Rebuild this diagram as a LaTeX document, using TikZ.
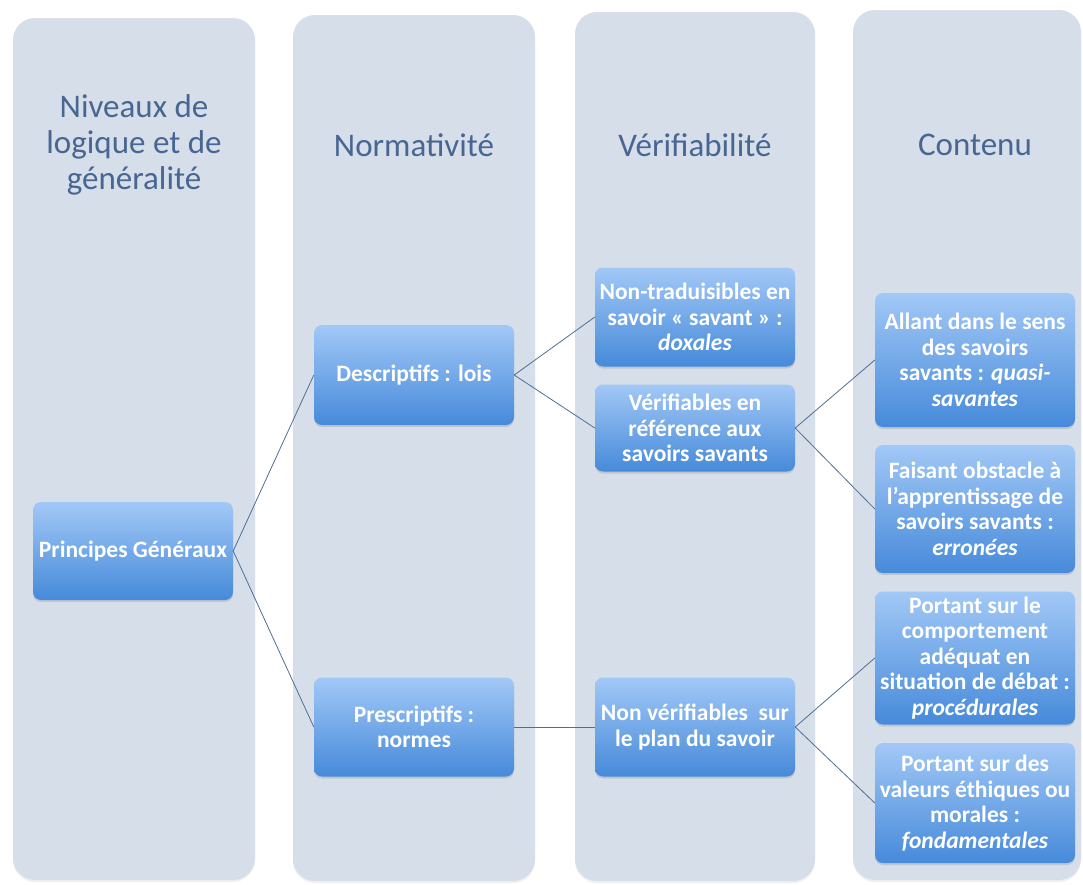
\documentclass[tikz,border=0pt]{standalone}
\usepackage{fontspec}
\setmainfont{Carlito}
\usetikzlibrary{shadows}
\definecolor{panel}{RGB}{214,222,234}
\definecolor{ttl}{RGB}{72,102,146}
\definecolor{btop}{RGB}{162,200,246}
\definecolor{bbot}{RGB}{70,138,218}
\definecolor{conn}{RGB}{80,110,145}
\begin{document}
\begin{tikzpicture}[x=1pt,y=-1pt,
  panelbox/.style={fill=panel, rounded corners=22pt, draw=none,
    drop shadow={opacity=0.12, shadow xshift=0pt, shadow yshift=-2pt}},
  titletext/.style={text=ttl, font=\fontsize{33}{36}\selectfont, align=center},
  item/.style={rectangle, rounded corners=8pt, top color=btop, bottom color=bbot,
    draw=none, text=white, font=\bfseries\fontsize{23.5}{25.5}\selectfont, align=center,
    minimum width=200pt, inner sep=1pt,
    drop shadow={opacity=0.25, shadow xshift=0pt, shadow yshift=-2pt}},
  link/.style={draw=conn, line width=0.8pt}]
\useasboundingbox (0,0) rectangle (1083,884);
% panels
\path[panelbox] (13,18) rectangle (255,880);
\path[panelbox] (293,15) rectangle (535,881);
\path[panelbox] (575,12) rectangle (815,881);
\path[panelbox] (853,10) rectangle (1081,880);
% titles
\node[titletext] (t1) at (134,145) {Niveaux de\\logique et de\\généralité};
\node[titletext] (t2) at (414,145) {Normativité};
\node[titletext] (t3) at (695,145) {Vérifiabilité};
\node[titletext] (t4) at (975,145) {Contenu};
% items
\node[item, minimum height=98pt] (pg) at (133,551) {Principes Généraux};
\node[item, minimum height=100pt] (desc) at (414,375) {Descriptifs : lois};
\node[item, minimum height=99pt] (presc) at (414,727) {Prescriptifs :\\normes};
\node[item, minimum height=99pt] (dox) at (695,317) {Non-traduisibles en\\savoir « savant » :\\\textit{doxales}};
\node[item, minimum height=87pt] (verif) at (695,428) {Vérifiables en\\référence aux\\savoirs savants};
\node[item, minimum height=99pt] (nonv) at (695,727) {Non vérifiables~ sur\\le plan du savoir};
\node[item, minimum height=134pt] (quasi) at (975,360) {Allant dans le sens\\des savoirs\\savants : \textit{quasi-}\\\textit{savantes}};
\node[item, minimum height=128pt] (err) at (975,509) {Faisant obstacle à\\l’apprentissage de\\savoirs savants :\\\textit{erronées}};
\node[item, minimum height=133pt] (proc) at (975,658) {Portant sur le\\comportement\\adéquat en\\situation de débat :\\\textit{procédurales}};
\node[item, minimum height=120pt] (fond) at (975,803) {Portant sur des\\valeurs éthiques ou\\morales :\\\textit{fondamentales}};
% connectors
\draw[link] (pg.east) -- (desc.west);
\draw[link] (pg.east) -- (presc.west);
\draw[link] (desc.east) -- (dox.west);
\draw[link] (desc.east) -- (verif.west);
\draw[link] (presc.east) -- (nonv.west);
\draw[link] (verif.east) -- (quasi.west);
\draw[link] (verif.east) -- (err.west);
\draw[link] (nonv.east) -- (proc.west);
\draw[link] (nonv.east) -- (fond.west);
\end{tikzpicture}
\end{document}
